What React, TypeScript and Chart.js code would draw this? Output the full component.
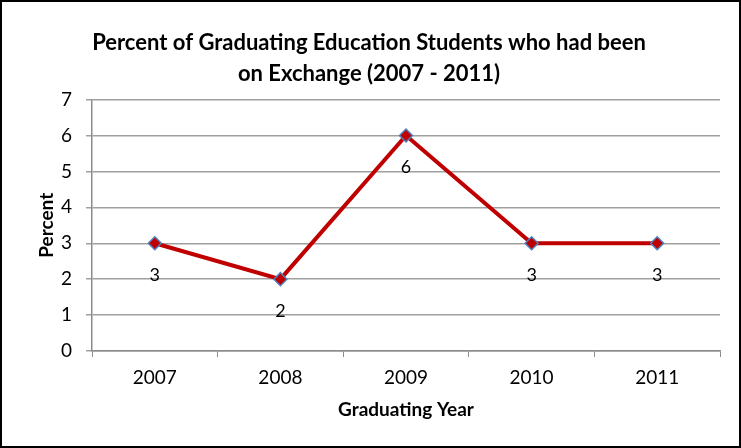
import React, { useEffect, useRef } from "react";
import { Chart, registerables } from "chart.js";

Chart.register(...registerables);

const years = ["2007", "2008", "2009", "2010", "2011"];
const percents = [3, 2, 6, 3, 3];
const titleLines = ["Percent of Graduating Education Students who had been", "on Exchange (2007 - 2011)"];
const yTitle = "Percent";
const xTitle = "Graduating Year";

const FONT = "Lato, 'Open Sans', sans-serif";

const frame = {
  id: "frame",
  beforeDraw(chart: any) {
    const { ctx, width, height } = chart;
    ctx.save();
    ctx.fillStyle = "#ffffff";
    ctx.fillRect(0, 0, width, height);
    ctx.restore();
  },
  afterDraw(chart: any) {
    const { ctx, width, height } = chart;
    ctx.save();
    ctx.strokeStyle = "#000000";
    ctx.lineWidth = 2;
    ctx.strokeRect(1, 1, width - 2, height - 2);
    ctx.restore();
  },
};

const labelsBelow = {
  id: "labelsBelow",
  afterDatasetsDraw(chart: any) {
    const { ctx } = chart;
    const meta = chart.getDatasetMeta(0);
    ctx.save();
    ctx.fillStyle = "#000000";
    ctx.font = `18px ${FONT}`;
    ctx.textAlign = "center";
    ctx.textBaseline = "middle";
    meta.data.forEach((pt: any, i: number) => {
      ctx.fillText(String(percents[i]), pt.x, pt.y + 32);
    });
    ctx.restore();
  },
};

export default function App() {
  const ref = useRef<HTMLCanvasElement>(null);
  useEffect(() => {
    const chart = new Chart(ref.current!, {
      type: "line",
      data: {
        labels: years,
        datasets: [
          {
            data: percents,
            borderColor: "#c00000",
            borderWidth: 4,
            pointStyle: "rectRot",
            pointRadius: 6.5,
            pointBackgroundColor: "#c00000",
            pointBorderColor: "#4f81bd",
            pointBorderWidth: 1.5,
            tension: 0,
          },
        ],
      },
      options: {
        responsive: false,
        animation: false,
        layout: { padding: { left: 18, right: 21, top: 0, bottom: 0 } },
        plugins: {
          legend: { display: false },
          tooltip: { enabled: false },
          title: {
            display: true,
            text: titleLines,
            color: "#000000",
            font: { family: FONT, size: 22, weight: "bold", lineHeight: 1.4 },
            padding: { top: 28, bottom: 10 },
          },
        },
        scales: {
          x: {
            offset: true,
            grid: {
              offset: true,
              drawOnChartArea: false,
              drawTicks: true,
              tickLength: 6,
              color: "#8c8c8c",
            },
            border: { color: "#8c8c8c", width: 1.5 },
            ticks: { color: "#000000", font: { family: FONT, size: 19 }, padding: 9 },
            title: {
              display: true,
              text: xTitle,
              color: "#000000",
              font: { family: FONT, size: 19, weight: "bold", lineHeight: 1.2 },
              padding: { top: 0, bottom: 27 },
            },
            afterFit(s: any) {
              s.height = 97;
            },
          },
          y: {
            min: 0,
            max: 7,
            ticks: { stepSize: 1, color: "#000000", font: { family: FONT, size: 19 }, padding: 14 },
            grid: { color: "#a0a0a0", tickLength: 6, lineWidth: 1.5 },
            border: { color: "#8c8c8c", width: 1.5 },
            title: {
              display: true,
              text: yTitle,
              color: "#000000",
              font: { family: FONT, size: 19, weight: "bold", lineHeight: 1.2 },
              padding: { top: 17, bottom: 0 },
            },
            afterFit(s: any) {
              s.width = 74;
            },
          },
        },
      },
      plugins: [frame, labelsBelow],
    });
    return () => chart.destroy();
  }, []);
  return (
    <div style={{ position: "fixed", left: 0, top: 0, width: 741, height: 448 }}>
      <canvas ref={ref} width={741} height={448} style={{ display: "block" }} />
    </div>
  );
}
